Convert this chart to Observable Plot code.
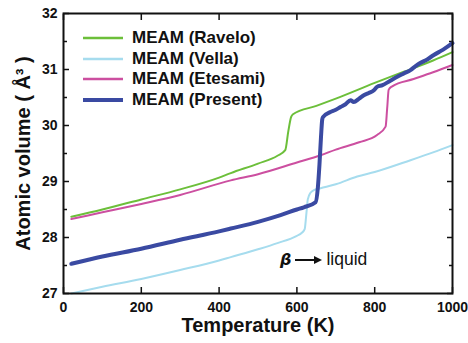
<!DOCTYPE html>
<html>
<head>
<meta charset="utf-8">
<script src="https://cdn.jsdelivr.net/npm/d3@7"></script>
<script src="https://cdn.jsdelivr.net/npm/@observablehq/plot@0.6"></script>
<style>
  html, body { margin: 0; padding: 0; background: #fff; }
  #wrap { position: relative; width: 468px; height: 343px; font-family: "Liberation Sans", Arial, sans-serif; }
  #legend { position: absolute; left: 83px; top: 28px; font-weight: bold; font-size: 17px; color: #111; }
  .row { display: flex; align-items: center; height: 20.6px; white-space: nowrap; }
  .row svg { margin-right: 9px; }
  #annot { position: absolute; left: 280px; top: 249px; font-size: 17.5px; color: #111; display: flex; align-items: center; white-space: nowrap; }
</style>
</head>
<body>
<div id="wrap"></div>
<script>
// Data
const xTicks = [0, 200, 400, 600, 800, 1000];
const yTicks = [27, 28, 29, 30, 31, 32];
const yMinorTicks = [27.5, 28.5, 29.5, 30.5, 31.5];

const seriesNames = ["MEAM (Ravelo)", "MEAM (Vella)", "MEAM (Etesami)", "MEAM (Present)"];

const raveloT = [20, 100, 200, 300, 400, 430, 500, 550, 570, 578, 585, 590, 650, 700, 800, 875, 950, 1000];
const raveloV = [28.37, 28.50, 28.68, 28.86, 29.07, 29.15, 29.32, 29.46, 29.56, 29.90, 30.15, 30.20, 30.35, 30.48, 30.76, 30.96, 31.16, 31.31];

const vellaT = [20, 100, 200, 300, 400, 430, 500, 550, 600, 612, 620, 624, 628, 635, 645, 661, 700, 755, 800, 892, 950, 1000];
const vellaV = [27.00, 27.12, 27.26, 27.42, 27.59, 27.65, 27.79, 27.90, 28.03, 28.08, 28.15, 28.40, 28.68, 28.80, 28.85, 28.88, 28.95, 29.09, 29.17, 29.38, 29.52, 29.65];

const etesamiT = [20, 100, 200, 300, 430, 500, 600, 661, 700, 760, 806, 828, 832, 836, 845, 900, 950, 1000];
const etesamiV = [28.33, 28.45, 28.60, 28.76, 29.02, 29.13, 29.34, 29.47, 29.57, 29.70, 29.83, 29.98, 30.30, 30.64, 30.70, 30.83, 30.95, 31.08];

const presentT = [20, 100, 200, 300, 400, 430, 500, 558, 600, 618, 648, 654, 658, 662, 665, 667, 686, 700, 712, 725, 738, 746, 760, 772, 785, 798, 806, 820, 840, 858, 875, 892, 905, 918, 935, 952, 975, 1000];
const presentV = [27.53, 27.66, 27.80, 27.96, 28.11, 28.16, 28.28, 28.40, 28.50, 28.54, 28.63, 28.90, 29.30, 29.80, 30.10, 30.15, 30.24, 30.28, 30.33, 30.38, 30.45, 30.42, 30.48, 30.54, 30.58, 30.63, 30.69, 30.72, 30.80, 30.87, 30.93, 30.99, 31.06, 31.12, 31.18, 31.26, 31.35, 31.47];

const xLabel = "Temperature (K)";
const yLabel = "Atomic volume ( Å³ )";

// Styles
const colors = ["#6cbf3a", "#a6dcee", "#cc4fa0", "#3a4aa2"];
const widths = [2, 2, 2, 4];

const seriesT = [raveloT, vellaT, etesamiT, presentT];
const seriesV = [raveloV, vellaV, etesamiV, presentV];
const rows = seriesNames.map((name, i) => seriesT[i].map((t, j) => ({series: name, T: t, V: seriesV[i][j]})));

const blank = () => "";
const intFmt = d3.format("d");

const chart = Plot.plot({
  width: 468,
  height: 343,
  marginLeft: 63,
  marginRight: 16,
  marginTop: 13,
  marginBottom: 50,
  x: {domain: [0, 1000]},
  y: {domain: [27, 32]},
  style: {fontFamily: "'Liberation Sans', Arial, sans-serif", fontWeight: "bold", background: "#fff", color: "#111", overflow: "visible"},
  marks: [
    Plot.axisX(xTicks, {anchor: "bottom", tickSize: 0, tickPadding: 9, fontSize: 14, label: null, tickFormat: intFmt}),
    Plot.axisX(xTicks, {anchor: "bottom", tickSize: -6, tickFormat: blank, label: null, strokeWidth: 1.5}),
    Plot.axisX(xTicks, {anchor: "top", tickSize: -6, tickFormat: blank, label: null, strokeWidth: 1.5}),
    Plot.axisY(yTicks, {anchor: "left", tickSize: 0, tickPadding: 6, fontSize: 14, label: null, tickFormat: intFmt}),
    Plot.axisY(yTicks, {anchor: "left", tickSize: -6, tickFormat: blank, label: null, strokeWidth: 1.5}),
    Plot.axisY(yMinorTicks, {anchor: "left", tickSize: -4, tickFormat: blank, label: null, strokeWidth: 1.5}),
    Plot.axisY(yTicks, {anchor: "right", tickSize: -6, tickFormat: blank, label: null, strokeWidth: 1.5}),
    Plot.axisY(yMinorTicks, {anchor: "right", tickSize: -4, tickFormat: blank, label: null, strokeWidth: 1.5}),
    ...rows.map((data, i) => Plot.line(data, {x: "T", y: "V", stroke: colors[i], strokeWidth: widths[i], curve: "monotone-x"})),
    Plot.frame({stroke: "#111", strokeWidth: 2}),
    Plot.text([xLabel], {frameAnchor: "bottom", textAnchor: "middle", dy: 32, fontSize: 20, fontWeight: "bold", lineAnchor: "middle"}),
    Plot.text([yLabel], {frameAnchor: "left", textAnchor: "middle", dx: -40, rotate: -90, fontSize: 20, fontWeight: "bold", lineAnchor: "middle"})
  ]
});

const wrap = document.getElementById("wrap");
wrap.appendChild(chart);

// Legend overlay
const legend = document.createElement("div");
legend.id = "legend";
seriesNames.forEach((name, i) => {
  const row = document.createElement("div");
  row.className = "row";
  row.innerHTML = `<svg width="40" height="6"><line x1="0" y1="3" x2="40" y2="3" stroke="${colors[i]}" stroke-width="${widths[i] === 4 ? 4 : 2.5}"/></svg><span>${name}</span>`;
  legend.appendChild(row);
});
wrap.appendChild(legend);

// Annotation overlay
const annot = document.createElement("div");
annot.id = "annot";
annot.innerHTML = `<span style="font-style:italic;font-weight:bold;font-family:'DejaVu Sans',sans-serif;font-size:16px">β</span>` +
  `<svg width="28" height="10" style="margin:0 3px 0 4px"><line x1="0" y1="5" x2="20" y2="5" stroke="#111" stroke-width="2"/><path d="M19,1 L27,5 L19,9 Z" fill="#111"/></svg>` +
  `<span>liquid</span>`;
wrap.appendChild(annot);
</script>
</body>
</html>
